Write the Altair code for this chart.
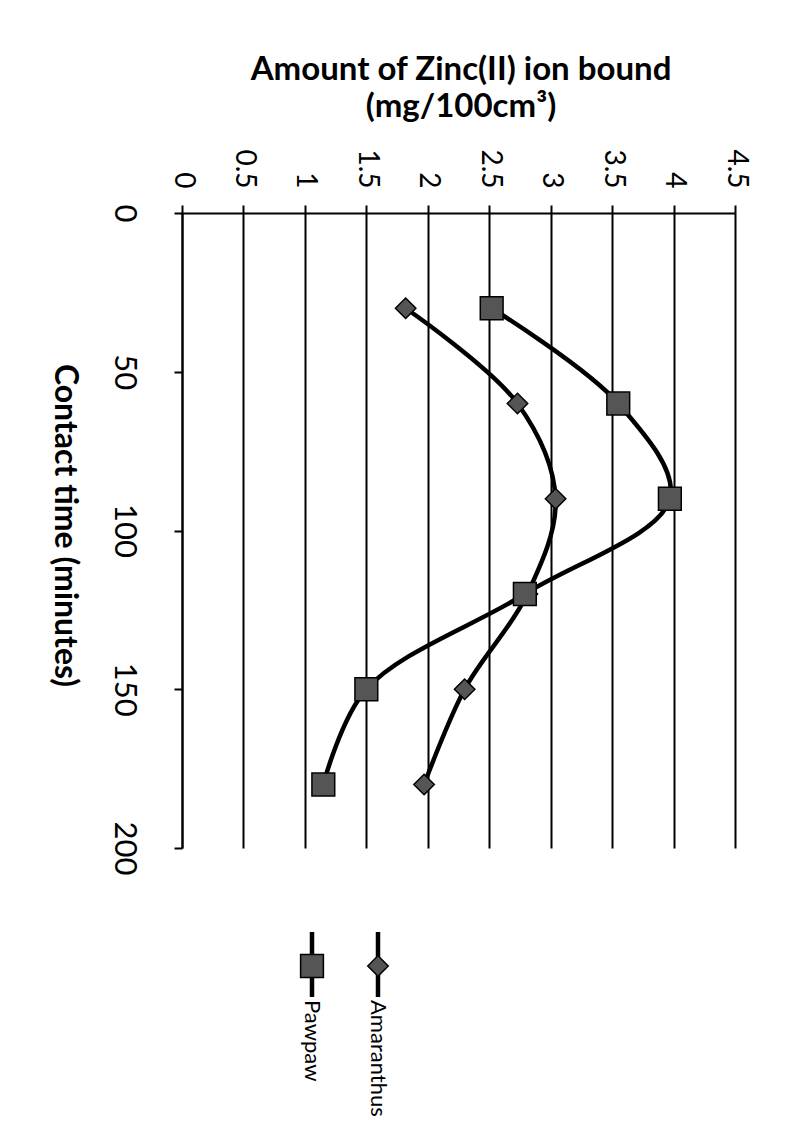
import altair as alt
import pandas as pd

# ---- data ----
times = [30, 60, 90, 120, 150, 180]
amaranthus = [1.82, 2.73, 3.04, 2.81, 2.30, 1.97]
pawpaw = [2.52, 3.55, 3.97, 2.79, 1.50, 1.15]
series_names = ["Amaranthus", "Pawpaw"]
amount_ticks = [0, 0.5, 1, 1.5, 2, 2.5, 3, 3.5, 4, 4.5]
time_ticks = [0, 50, 100, 150, 200]

rows = []
for t, a in zip(times, amaranthus):
    rows.append({"series": "Amaranthus", "time": t, "amount": a})
for t, p in zip(times, pawpaw):
    rows.append({"series": "Pawpaw", "time": t, "amount": p})
df = pd.DataFrame(rows)
legend_df = pd.DataFrame({"series": series_names})

W, H = 553, 635
FONT = "Lato"

x_enc = alt.X(
    "amount:Q",
    scale=alt.Scale(domain=[0, 4.5], nice=False, zero=False),
    axis=alt.Axis(
        orient="top", values=amount_ticks, format="~g", labelAngle=90, labelAlign="right",
        labelBaseline="middle", labelPadding=17, labelFlush=False, labelOverlap=False,
        labelFont=FONT, labelFontSize=28, labelColor="black",
        tickSize=8, tickColor="black", tickWidth=2,
        domainColor="black", domainWidth=2,
        grid=True, gridColor="black", gridWidth=2, gridOpacity=1,
        title=["Amount of Zinc(II) ion bound", "(mg/100cm³)"],
        titleFont=FONT, titleFontSize=33, titleFontWeight="bold", titleColor="black",
        titleAngle=0, titleAlign="center", titleBaseline="top",
        titleX=W / 2 + 2, titleY=-160, titleLineHeight=37,
    ),
)
y_enc = alt.Y(
    "time:Q",
    scale=alt.Scale(domain=[0, 200], reverse=True, nice=False, zero=False),
    axis=alt.Axis(
        orient="left", values=time_ticks, labelAngle=90, labelAlign="center",
        labelBaseline="top", labelPadding=36, labelFlush=False, labelOverlap=False,
        labelFont=FONT, labelFontSize=31, labelColor="black",
        tickSize=8, tickColor="black", tickWidth=2,
        domainColor="black", domainWidth=2, grid=False,
        title="Contact time (minutes)", titleFont=FONT, titleFontSize=32,
        titleFontWeight="bold", titleColor="black", titleAngle=90,
        titleAlign="center", titleBaseline="middle", titleX=-118, titleY=312,
    ),
)

shape_scale = alt.Scale(domain=series_names, range=["diamond", "square"])
size_scale = alt.Scale(domain=series_names, range=[420, 520])

line = alt.Chart(df).mark_line(
    interpolate="catmull-rom", strokeWidth=4.5, color="black"
).encode(x=x_enc, y=y_enc, detail="series:N", order=alt.Order("time:Q"))

pts = alt.Chart(df).mark_point(
    filled=True, color="#555555", stroke="black", strokeWidth=1.5, opacity=1
).encode(
    x="amount:Q", y="time:Q",
    shape=alt.Shape("series:N", scale=shape_scale, legend=None),
    size=alt.Size("series:O", scale=size_scale, legend=None),
)

main = alt.layer(line, pts)

lx = alt.X(
    "series:N",
    scale=alt.Scale(type="point", domain=["Pawpaw", "Amaranthus"], range=[130, 196], padding=0),
    axis=None,
)
leg_rule = alt.Chart(legend_df).mark_rule(color="black", strokeWidth=4.5).encode(
    x=lx, y=alt.value(719), y2=alt.value(784)
)
leg_pt = alt.Chart(legend_df).mark_point(
    filled=True, color="#555555", stroke="black", strokeWidth=1.5, opacity=1
).encode(
    x=lx, y=alt.value(753),
    shape=alt.Shape("series:N", scale=shape_scale, legend=None),
    size=alt.Size("series:O", scale=size_scale, legend=None),
)
leg_txt = alt.Chart(legend_df).mark_text(
    angle=90, align="left", baseline="middle", font=FONT, fontSize=22, color="black"
).encode(x=lx, y=alt.value(787), text="series:N")

legend = alt.layer(leg_rule, leg_pt, leg_txt)

chart = alt.layer(main, legend).resolve_scale(x="independent").properties(
    width=W, height=H,
    autosize=alt.AutoSizeParams(type="none"),
    padding={"left": 174, "top": 205, "right": 56, "bottom": 278},
    background="white",
).configure_view(stroke=None)

chart.save("out.html", embed_options={"renderer": "svg", "actions": False})
